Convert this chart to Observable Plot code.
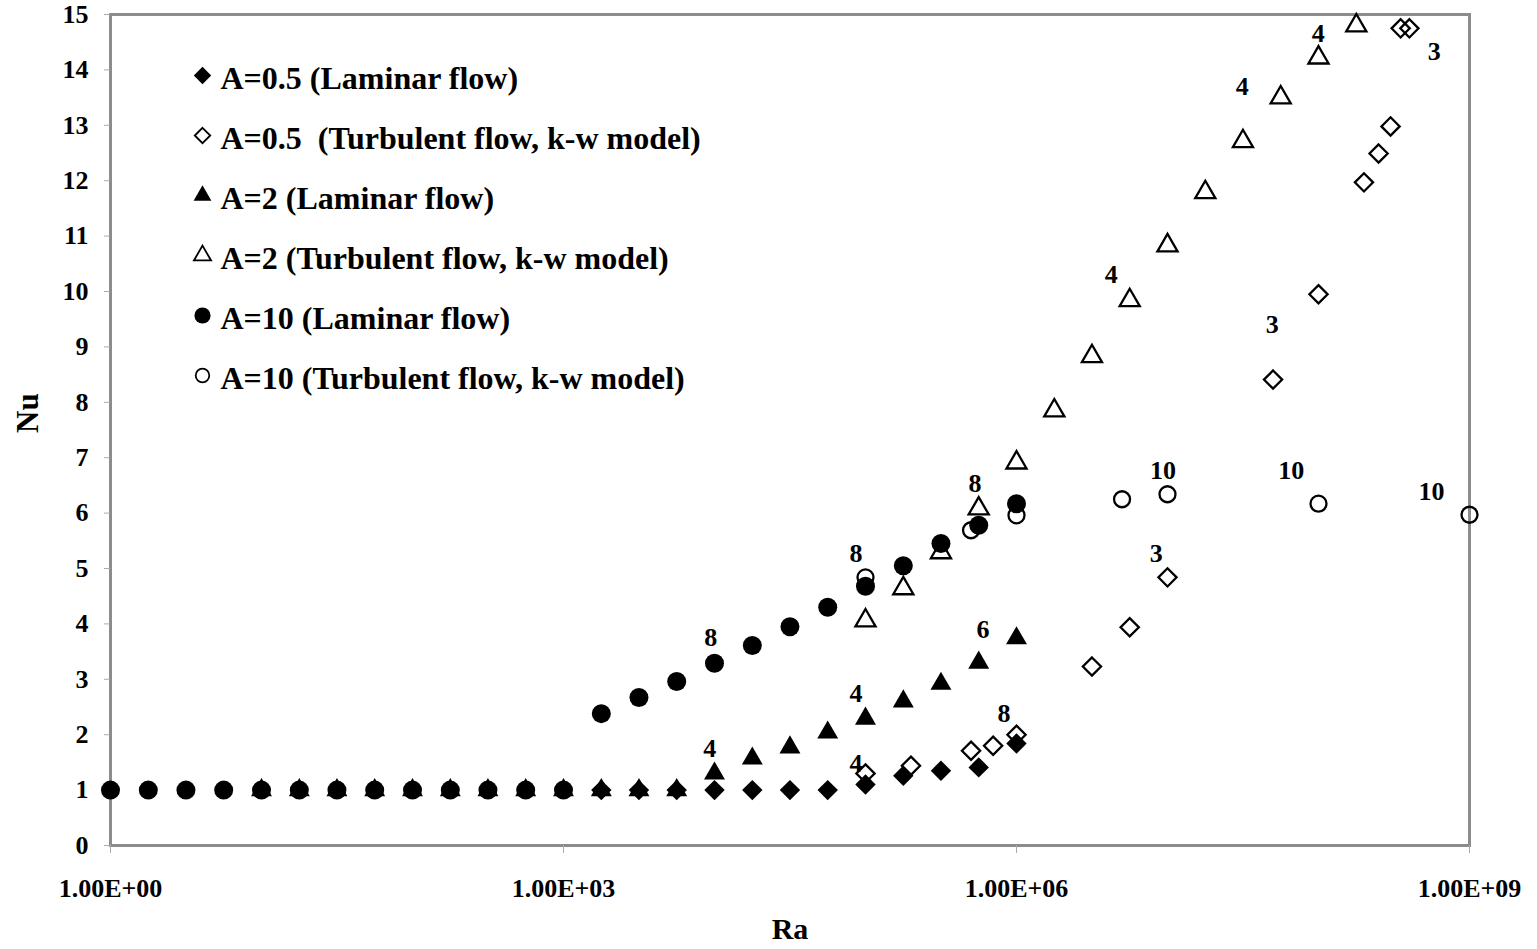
<!DOCTYPE html>
<html>
<head>
<meta charset="utf-8">
<script src="https://cdn.jsdelivr.net/npm/d3@7"></script>
<script src="https://cdn.jsdelivr.net/npm/@observablehq/plot@0.6"></script>
<style>
  html, body { margin: 0; padding: 0; background: #fff; overflow: hidden; }
</style>
</head>
<body>
<div id="chart"></div>
<script>
// ---------- data ----------
// A=10 laminar (filled circles)
const raA10Lam = [1, 1.78, 3.16, 5.62, 10, 17.8, 31.6, 56.2, 100, 178, 316, 562, 1000,
                  1780, 3160, 5620, 10000, 17800, 31600, 56200, 100000, 178000, 316000, 562000, 1000000];
const nuA10Lam = [1, 1, 1, 1, 1, 1, 1, 1, 1, 1, 1, 1, 1,
                  2.38, 2.67, 2.96, 3.29, 3.61, 3.95, 4.30, 4.68, 5.05, 5.45, 5.78, 6.17];

// A=2 laminar (filled triangles)
const raA2Lam = [10, 17.8, 31.6, 56.2, 100, 178, 316, 562, 1000, 1780, 3160, 5620,
                 10000, 17800, 31600, 56200, 100000, 178000, 316000, 562000, 1000000];
const nuA2Lam = [1, 1, 1, 1, 1, 1, 1, 1, 1, 1, 1, 1,
                 1.30, 1.57, 1.77, 2.04, 2.29, 2.60, 2.92, 3.30, 3.74];

// A=0.5 laminar (filled diamonds)
const raA05Lam = [1780, 3160, 5620, 10000, 17800, 31600, 56200, 100000, 178000, 316000, 562000, 1000000];
const nuA05Lam = [1, 1, 1, 1, 1, 1, 1, 1.10, 1.26, 1.35, 1.41, 1.84];

// A=0.5 turbulent, k-w (open diamonds)
const raA05Turb = [100000, 200000, 500000, 700000, 1000000, 3160000, 5620000, 10000000,
                   50000000, 100000000, 200000000, 250000000, 300000000, 350000000, 400000000];
const nuA05Turb = [1.30, 1.44, 1.71, 1.80, 2.00, 3.23, 3.94, 4.84,
                   8.41, 9.95, 11.97, 12.49, 12.98, 14.75, 14.75];

// A=2 turbulent, k-w (open triangles)
const raA2Turb = [100000, 178000, 316000, 562000, 1000000, 1780000, 3160000, 5620000,
                  10000000, 17800000, 31600000, 56200000, 100000000, 178000000];
const nuA2Turb = [4.06, 4.64, 5.29, 6.08, 6.91, 7.85, 8.83, 9.84,
                  10.83, 11.79, 12.71, 13.50, 14.22, 14.80];

// A=10 turbulent, k-w (open circles)
const raA10Turb = [100000, 500000, 1000000, 5000000, 10000000, 100000000, 1000000000];
const nuA10Turb = [4.84, 5.69, 5.96, 6.25, 6.34, 6.17, 5.97];

// point annotations (label numbers)
const annoText = ["8", "4", "4", "4", "8", "6", "8", "8", "4", "3", "10", "3", "10", "10", "4", "4", "3"];
const annoRa   = [9460, 9310, 86500, 86500, 86500, 601000, 828000, 532000, 4240000, 8410000,
                  9350000, 49400000, 66100000, 560000000, 31300000, 99800000, 585000000];
const annoNu   = [3.75, 1.75, 2.74, 1.48, 5.27, 3.90, 2.38, 6.53, 10.31, 5.27,
                  6.77, 9.40, 6.77, 6.39, 13.70, 14.66, 14.33];

// axes
const xTicks = [1, 1e3, 1e6, 1e9];
const xTickLabels = ["1.00E+00", "1.00E+03", "1.00E+06", "1.00E+09"];
const yTicks = [0, 1, 2, 3, 4, 5, 6, 7, 8, 9, 10, 11, 12, 13, 14, 15];
const xTitle = "Ra";
const yTitle = "Nu";

// legend
const legendLabels = [
  "A=0.5 (Laminar flow)",
  "A=0.5  (Turbulent flow, k-w model)",
  "A=2 (Laminar flow)",
  "A=2 (Turbulent flow, k-w model)",
  "A=10 (Laminar flow)",
  "A=10 (Turbulent flow, k-w model)"
];

// ---------- build ----------
const zip = (xs, ys) => xs.map((x, i) => ({x, y: ys[i]}));
const FONT = "'Liberation Serif', 'Times New Roman', serif";

const series = [
  {data: zip(raA05Lam, nuA05Lam),   symbol: "diamond2",  filled: true,  r: 9.2},
  {data: zip(raA05Turb, nuA05Turb), symbol: "diamond2",  filled: false, r: 8.2},
  {data: zip(raA2Lam, nuA2Lam),     symbol: "triangle2", filled: true,  r: 10},
  {data: zip(raA2Turb, nuA2Turb),   symbol: "triangle2", filled: false, r: 9.6},
  {data: zip(raA10Lam, nuA10Lam),   symbol: "circle",    filled: true,  r: 9.5},
  {data: zip(raA10Turb, nuA10Turb), symbol: "circle",    filled: false, r: 8}
];

const dotStyle = (s, r, sw = 2.3) => s.filled
  ? {symbol: s.symbol, r, fill: "black", stroke: "none"}
  : {symbol: s.symbol, r, fill: "none", stroke: "black", strokeWidth: sw};

const marks = [
  Plot.frame({stroke: "#8c8c8c", strokeWidth: 3}),
  Plot.axisX({ticks: xTicks, tickFormat: d => xTickLabels[xTicks.indexOf(d)],
              tickSize: 8, tickPadding: 25, stroke: "#aaa", fill: "black",
              fontSize: 26, fontWeight: "bold", label: null}),
  Plot.axisY({ticks: yTicks, tickFormat: d => String(d), tickSize: 6, tickPadding: 16,
              stroke: "#aaa", fill: "black", fontSize: 26, fontWeight: "bold", label: null}),
  Plot.text([xTitle], {frameAnchor: "bottom", lineAnchor: "middle", dy: 84,
                       fontSize: 30, fontWeight: "bold", fill: "black"}),
  Plot.text([yTitle], {frameAnchor: "left", lineAnchor: "middle", dx: -82, dy: 3, rotate: -90,
                       fontSize: 31, fontWeight: "bold", fill: "black"})
];

for (const s of series) {
  marks.push(Plot.dot(s.data, {x: "x", y: "y", ...dotStyle(s, s.r)}));
}

marks.push(Plot.text(annoText.map((t, i) => ({t, x: annoRa[i], y: annoNu[i]})),
  {x: "x", y: "y", text: "t", fontSize: 26, fontWeight: "bold", fill: "black"}));

legendLabels.forEach((lab, i) => {
  const s = series[i];
  marks.push(Plot.dot([lab], {frameAnchor: "top-left", dx: 92, dy: 61 + 60 * i,
    ...dotStyle(s, s.r * 0.85, 1.8)}));
  marks.push(Plot.text([lab], {frameAnchor: "top-left", lineAnchor: "middle", dx: 110, dy: 64 + 60 * i,
    text: d => d, textAnchor: "start", fontSize: 32, fontWeight: "bold", fill: "black"}));
});

const chart = Plot.plot({
  width: 1537,
  height: 949,
  marginLeft: 110,
  marginRight: 68,
  marginTop: 14,
  marginBottom: 104,
  x: {type: "log", domain: [1, 1e9]},
  y: {domain: [0, 15]},
  style: {fontFamily: FONT, fontSize: "26px", color: "black", background: "white", overflow: "visible"},
  marks
});
document.getElementById("chart").appendChild(chart);
</script>
</body>
</html>
